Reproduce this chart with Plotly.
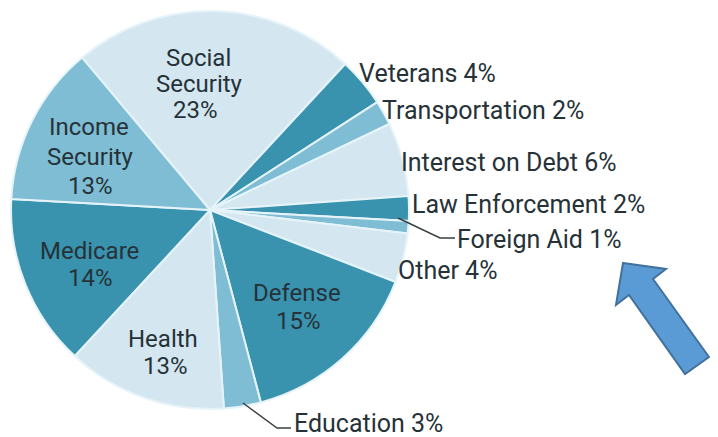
import plotly.graph_objects as go

W, H = 718, 437
OX, OY = 8, 8  # page offset of the plot inside the browser window

# ---- data ----
labels = ["Social Security", "Veterans", "Transportation", "Interest on Debt",
          "Law Enforcement", "Foreign Aid", "Other", "Defense", "Education",
          "Health", "Medicare", "Income Security"]
values = [23, 4, 2, 6, 2, 1, 4, 15, 3, 13, 14, 13]

LIGHT, MED, DARK = "#d4e7f0", "#7ebdd3", "#3993ae"
colors = [LIGHT, DARK, MED, LIGHT, DARK, MED, LIGHT, DARK, MED, LIGHT, DARK, MED]
TEXT = "#263238"
FONT = "Roboto"
FS_IN, FS_OUT = 24, 25


def px(x, y):
    return (x - OX) / W, 1 - (y - OY) / H


CX, CY, R = 210, 210, 199
x0, y1 = px(CX - R, CY - R)
x1, y0 = px(CX + R, CY + R)

fig = go.Figure(go.Pie(
    labels=labels, values=values, sort=False, direction="clockwise",
    rotation=-40,
    marker=dict(colors=colors, line=dict(color="#e6f4fa", width=2)),
    textinfo="none", hoverinfo="label+percent", showlegend=False,
    domain=dict(x=[x0, x1], y=[y0, y1]),
))

vals = dict(zip(labels, values))

# inside labels: one line per word + percentage, (center x, center y per line)
inside_pos = {
    "Social Security": [(198, 58), (199, 84), (195, 110)],
    "Income Security": [(89, 127), (90, 157), (90, 186)],
    "Medicare": [(89, 251), (90, 278)],
    "Health": [(163, 339), (165, 366)],
    "Defense": [(297, 293), (298, 321)],
}
annotations = []
for lab, pos in inside_pos.items():
    lines = lab.split(" ") + [f"{vals[lab]}%"]
    for txt, (cx, cy) in zip(lines, pos):
        x, y = px(cx, cy)
        annotations.append(dict(x=x, y=y, xref="paper", yref="paper", text=txt,
                                showarrow=False, xanchor="center", yanchor="middle",
                                height=26, borderpad=0,
                                font=dict(family=FONT, size=FS_IN, color=TEXT)))

# outside labels: (left x, center y)
outside_pos = {
    "Veterans": (358, 74),
    "Transportation": (381, 110),
    "Interest on Debt": (400, 162),
    "Law Enforcement": (411, 204),
    "Foreign Aid": (456, 240),
    "Other": (397, 270),
    "Education": (293, 423),
}
for lab, (lx, cy) in outside_pos.items():
    x, y = px(lx, cy)
    annotations.append(dict(x=x, y=y, xref="paper", yref="paper",
                            text=f"{lab} {vals[lab]}%", showarrow=False,
                            xanchor="left", yanchor="middle",
                            height=27, borderpad=0,
                            font=dict(family=FONT, size=FS_OUT, color=TEXT)))


def path(points, close=False):
    s = ""
    for i, (a, b) in enumerate(points):
        x, y = px(a, b)
        s += ("M" if i == 0 else "L") + f"{x:.5f},{y:.5f} "
    return s + ("Z" if close else "")


shapes = [
    # leader lines
    dict(type="path", xref="paper", yref="paper",
         path=path([(398, 218), (440, 238), (455, 238)]),
         line=dict(color="#3a3f42", width=1.5)),
    dict(type="path", xref="paper", yref="paper",
         path=path([(243, 403), (277, 428), (291, 428)]),
         line=dict(color="#3a3f42", width=1.5)),
    # blue block arrow
    dict(type="path", xref="paper", yref="paper",
         path=path([(623, 263), (666, 269), (653, 279), (709, 357), (685, 374),
                    (629, 295), (616, 305)], close=True),
         fillcolor="#5b9bd5", line=dict(color="#41719c", width=2)),
]

fig.update_layout(
    width=W, height=H, margin=dict(l=0, r=0, t=0, b=0),
    paper_bgcolor="white", plot_bgcolor="white",
    annotations=annotations, shapes=shapes,
    font=dict(family=FONT),
)

fig.write_html("out.html")
